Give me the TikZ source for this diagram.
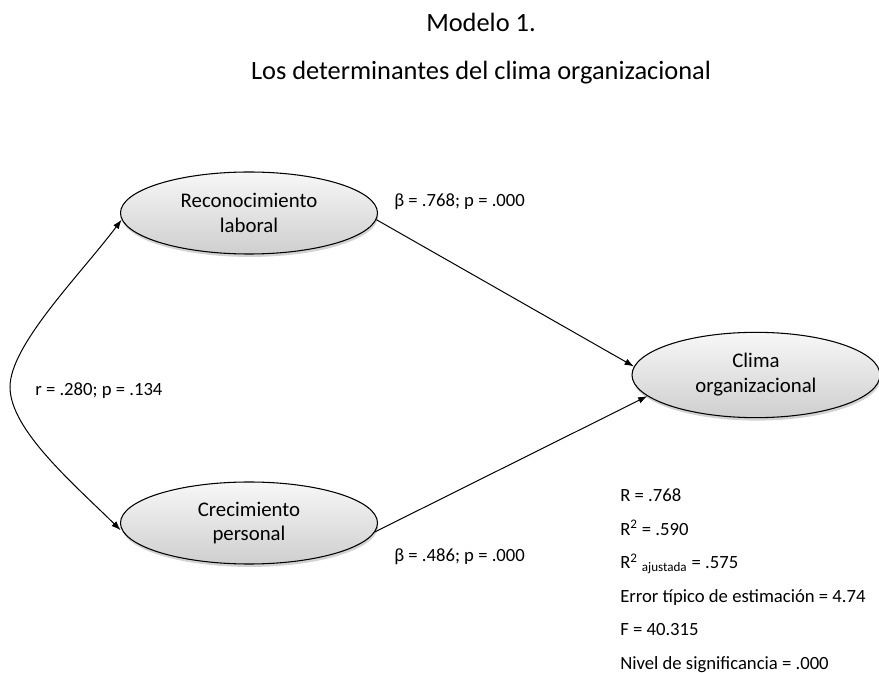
\documentclass[tikz,border=0pt]{standalone}
\usepackage{fontspec}
\setmainfont{Carlito}
\usetikzlibrary{arrows.meta,shapes.geometric,shadows}
\begin{document}
\begin{tikzpicture}[x=0.75pt,y=-0.75pt,
  var/.style={ellipse, draw=black, line width=0.8pt, inner sep=0pt,
    top color=gray!6, bottom color=gray!38,
    drop shadow={shadow xshift=0.6pt, shadow yshift=-2.2pt, opacity=0.35},
    align=center, font=\fontsize{15.6}{18.7}\selectfont},
  lbl/.style={font=\fontsize{14}{16.8}\selectfont, inner sep=0pt},
  ttl/.style={font=\fontsize{19.8}{23}\selectfont, inner sep=0pt},
  conn/.style={line width=0.75pt, -{Latex[length=7pt,width=5pt]}},
  biconn/.style={line width=0.75pt, {Latex[length=7pt,width=5pt]}-{Latex[length=7pt,width=5pt]}}
]
\useasboundingbox (0,0) rectangle (879,673);

\node[ttl, anchor=base] (t1) at (481,32) {Modelo 1.};
\node[ttl, anchor=base] (t2) at (481,80) {Los determinantes del clima organizacional};

\node[var, minimum width=192.75pt, minimum height=61.5pt] (rec) at (249,213) {Reconocimiento\\laboral};
\node[var, minimum width=192.75pt, minimum height=61.5pt] (crec) at (249,523) {Crecimiento\\personal};
\node[var, minimum width=186pt, minimum height=64pt] (clima) at (756,375) {Clima\\organizacional};

\draw[conn] (rec.-3) -- (clima.176);
\draw[conn] (crec.-4) -- (clima.-169);
\coordinate (mid) at (10,387);
\draw[biconn, shorten >=6pt] (rec.183) .. controls (80,275) and (10,345) .. (mid)
  .. controls (10,430) and (75,485) .. (crec.186);

\node[lbl, anchor=base west] (b1) at (394,207) {β = .768; p = .000};
\node[lbl, anchor=base west] (b2) at (394,562) {β = .486; p = .000};
\node[lbl, anchor=base west] (r1) at (35,396) {r = .280; p = .134};

\node[lbl, anchor=base west] (s1) at (620,502) {R = .768};
\node[lbl, anchor=base west] (s2) at (620,535.5) {R\textsuperscript{2} = .590};
\node[lbl, anchor=base west] (s3) at (620,569) {R\textsuperscript{2} \textsubscript{ajustada} = .575};
\node[lbl, anchor=base west] (s4) at (620,602.5) {Error típico de estimación = 4.74};
\node[lbl, anchor=base west] (s5) at (620,636) {F = 40.315};
\node[lbl, anchor=base west] (s6) at (620,669.5) {Nivel de significancia = .000};
\end{tikzpicture}
\end{document}
